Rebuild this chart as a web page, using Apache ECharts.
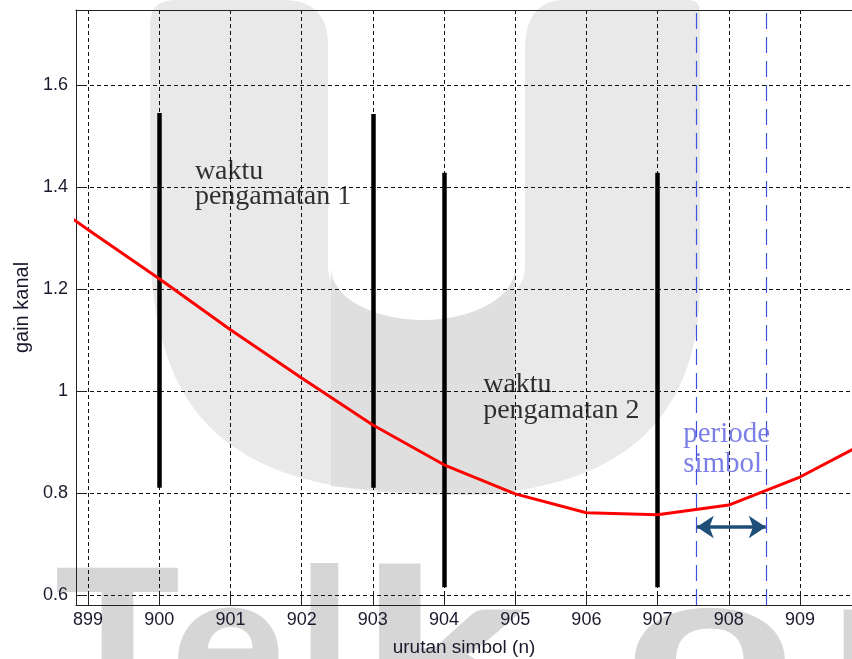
<!DOCTYPE html>
<html>
<head>
<meta charset="utf-8">
<script src="https://cdn.jsdelivr.net/npm/echarts@6/dist/echarts.min.js"></script>
<style>
html,body{margin:0;padding:0;background:#fff;}
#chart{width:852px;height:659px;}
</style>
</head>
<body>
<div id="chart"></div>
<script>
// ---- data ----
const symbolIndex = [898, 899, 900, 901, 902, 903, 904, 905, 906, 907, 908, 909, 910];
const gainValues  = [1.415, 1.316, 1.220, 1.120, 1.025, 0.933, 0.855, 0.798, 0.761, 0.757, 0.776, 0.831, 0.904];

const obsX    = [900, 903, 904, 907];
const obsLow  = [0.81, 0.81, 0.615, 0.615];
const obsHigh = [1.545, 1.543, 1.428, 1.428];

const periodX = [907.55, 908.52];
const arrowY  = 0.733;

const xRange = [898.83, 909.9];
const yRange = [0.58, 1.747];

const noteTexts = ['waktu\npengamatan 1', 'waktu\npengamatan 2', 'periode\nsimbol'];
const noteX     = [900.50, 904.55, 907.36];
const noteY     = [1.455, 1.038, 0.943];

const xTitle = 'urutan simbol (n)';
const yTitle = 'gain kanal';

// ---- watermark shapes ----
let shapesOk = false;
try {
  const UPath = echarts.graphic.extendPath(
    'M150 25 Q150 0 175 0 L283 0 Q328 0 328 45 L328 268 A98.5 53 0 0 0 525 268 L525 50 Q525 0 565 0 L688 0 Q700 0 700 12 L700 283 C700 420 620 495 450 495 C230 495 150 420 150 233 Z',
    {}
  );
  const BandPath = echarts.graphic.extendPath(
    'M331 268 A92 52 0 0 0 515 268 L515 493 Q450 498 331 486 Z',
    {}
  );
  echarts.graphic.registerShape('uMark', UPath);
  echarts.graphic.registerShape('uBand', BandPath);
  shapesOk = true;
} catch (e) { shapesOk = false; }

// ---- chart ----
const chart = echarts.init(document.getElementById('chart'), null, {renderer: 'canvas'});

const dashGrid = {show: true, lineStyle: {color: '#111', type: [4, 3], width: 1}};
const axisFont = 'Liberation Sans, Arial, sans-serif';

const noteStyles = [
  {color: '#000', fontSize: 28, lineHeight: 25},
  {color: '#000', fontSize: 28, lineHeight: 26},
  {color: '#5a5ee0', fontSize: 29, lineHeight: 29.5}
];

const wmFont = '900 200px Lato, sans-serif';
const wmLetters = ['T', 'e', 'l', 'k', 'o', 'm'];
const wmLeft    = [54, 172, 299, 362, 626, 830];
const wmScaleX  = [1.05, 1.05, 1, 1.5, 1.45, 1.2];

const graphics = [];
if (shapesOk) {
  graphics.push({type: 'uMark', z: -10, silent: true, shape: {}, style: {fill: '#e9e9e9'}});
  graphics.push({type: 'uBand', z: -9, silent: true, shape: {}, style: {fill: '#dfdfdf'}});
}
wmLetters.forEach((ch, i) => {
  graphics.push({type: 'text', z: -10, silent: true, x: wmLeft[i], y: 548, scaleX: wmScaleX[i],
    style: {text: ch, font: wmFont, fill: '#d6d6d6', verticalAlign: 'top'}});
});

const option = {
  backgroundColor: '#ffffff',
  animation: false,
  graphic: graphics,
  grid: {left: 76, width: 788, top: 10, bottom: 54, show: false, outerBoundsMode: 'none', containLabel: false},
  xAxis: [
    {
      type: 'value', position: 'bottom', min: xRange[0], max: xRange[1], splitNumber: 11,
      axisLine: {show: true, lineStyle: {color: '#222', width: 1}},
      axisTick: {show: true, inside: true, length: 10, lineStyle: {color: '#222'}},
      axisLabel: {
        show: true, margin: 6, fontSize: 18, fontFamily: axisFont, color: '#1a1a2e',
        formatter: v => (Math.abs(v - Math.round(v)) < 1e-6 ? String(Math.round(v)) : '')
      },
      splitLine: dashGrid,
      name: xTitle, nameLocation: 'middle', nameGap: 33,
      nameTextStyle: {fontSize: 19, fontFamily: axisFont, color: '#1a1a2e', padding: [0, 12, 0, 0]}
    },
    {
      type: 'value', position: 'top', min: xRange[0], max: xRange[1],
      axisLine: {show: true, lineStyle: {color: '#222', width: 1}},
      axisTick: {show: false}, axisLabel: {show: false}, splitLine: {show: false}
    }
  ],
  yAxis: [
    {
      type: 'value', position: 'left', min: yRange[0], max: yRange[1], splitNumber: 6,
      axisLine: {show: true, lineStyle: {color: '#222', width: 1}},
      axisTick: {show: true, inside: true, length: 10, lineStyle: {color: '#222'}},
      axisLabel: {
        show: true, margin: 8, fontSize: 18, fontFamily: axisFont, color: '#1a1a2e',
        formatter: v => (Math.abs(v * 5 - Math.round(v * 5)) < 1e-6 ? String(Math.round(v * 10) / 10) : '')
      },
      splitLine: dashGrid,
      name: yTitle, nameLocation: 'middle', nameGap: 44,
      nameTextStyle: {fontSize: 20, fontFamily: axisFont, color: '#1a1a2e'}
    }
  ],
  series: [
    {
      type: 'line', name: 'gain', xAxisIndex: 0, yAxisIndex: 0,
      data: symbolIndex.map((x, i) => [x, gainValues[i]]),
      showSymbol: false, symbol: 'none', smooth: false, clip: true,
      lineStyle: {color: '#ff0000', width: 3}, z: 5, silent: true
    },
    {
      type: 'lines', coordinateSystem: 'cartesian2d', xAxisIndex: 0, yAxisIndex: 0,
      data: obsX.map((x, i) => ({coords: [[x, obsLow[i]], [x, obsHigh[i]]]})),
      symbol: ['none', 'none'],
      lineStyle: {color: '#000', width: 4.5, opacity: 1, cap: 'butt'}, z: 4, silent: true
    },
    {
      type: 'lines', coordinateSystem: 'cartesian2d', xAxisIndex: 0, yAxisIndex: 0,
      data: periodX.map(x => ({coords: [[x, yRange[0]], [x, yRange[1]]]})),
      symbol: ['none', 'none'],
      lineStyle: {color: '#4050e0', width: 1.2, type: [16, 8], opacity: 1}, z: 3, silent: true
    },
    {
      type: 'lines', coordinateSystem: 'cartesian2d', xAxisIndex: 0, yAxisIndex: 0,
      data: [{coords: [[periodX[0], arrowY], [periodX[1], arrowY]]}],
      symbol: ['arrow', 'arrow'], symbolSize: 17,
      lineStyle: {color: '#1f4e79', width: 3.5, opacity: 1}, z: 6, silent: true
    },
    {
      type: 'scatter', xAxisIndex: 0, yAxisIndex: 0, symbolSize: 0, silent: true, z: 7,
      data: noteTexts.map((t, i) => ({
        value: [noteX[i], noteY[i]],
        label: {
          show: true, position: [0, 0], align: 'left', verticalAlign: 'top',
          formatter: t, fontFamily: 'Liberation Serif, Times New Roman, serif',
          fontSize: noteStyles[i].fontSize, lineHeight: noteStyles[i].lineHeight, color: noteStyles[i].color
        }
      }))
    }
  ]
};
chart.setOption(option);
</script>
</body>
</html>
